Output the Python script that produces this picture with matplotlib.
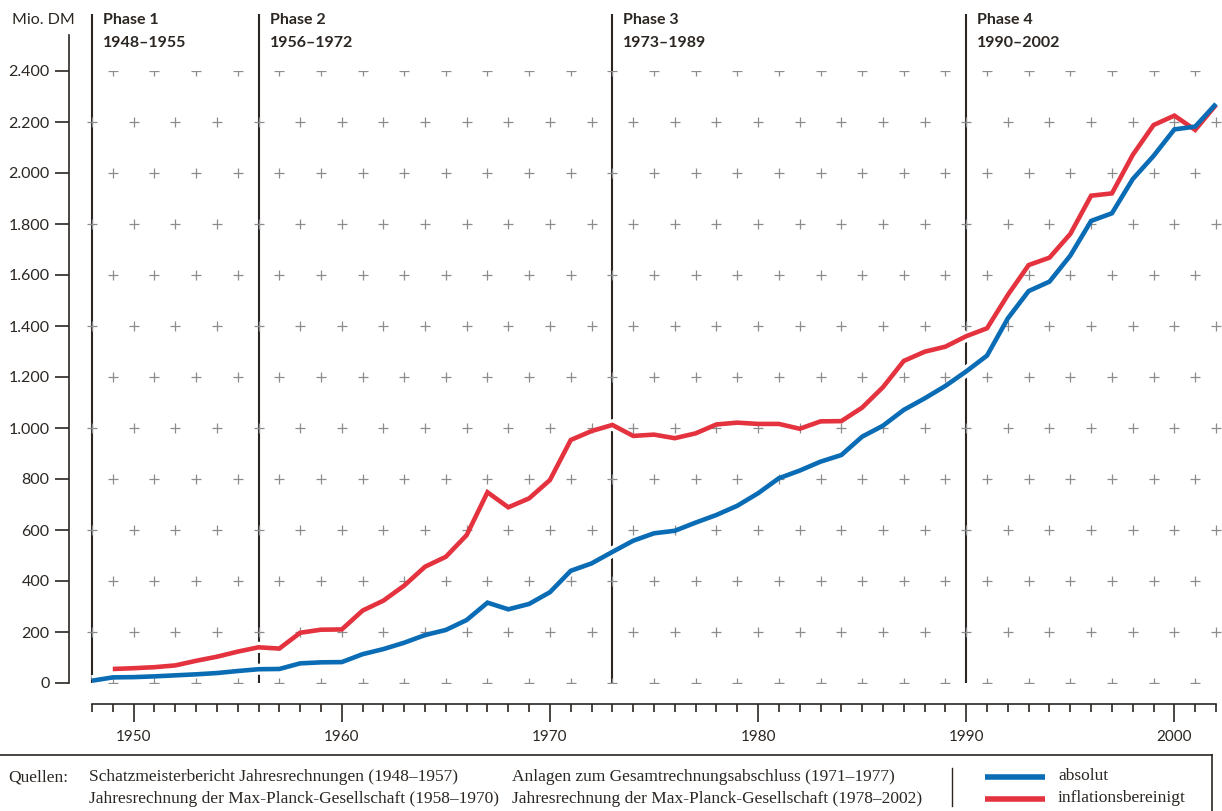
import matplotlib
matplotlib.use("Agg")
import matplotlib.pyplot as plt
from matplotlib.lines import Line2D
from matplotlib.transforms import Bbox, TransformedBbox
import numpy as np

# ---------------- data ----------------
years_abs = list(range(1948, 2003))
absolut = [9, 22, 23, 26, 30, 34, 39, 47, 54, 55, 77, 81, 82,
           113, 133, 158, 188, 208, 247, 315, 289, 310, 356, 440, 469,
           514, 558, 587, 597, 629, 659, 695, 744, 803, 833, 868, 894, 966, 1009, 1071, 1116, 1165,
           1222, 1284, 1430, 1537, 1574, 1676, 1812, 1842, 1976, 2067, 2171, 2182, 2271]
years_infl = list(range(1949, 2003))
inflationsbereinigt = [55, 58, 62, 69, 87, 103, 123, 140, 135, 197, 209, 210,
                       284, 323, 382, 456, 495, 580, 748, 689, 724, 796, 953, 988,
                       1012, 969, 974, 960, 979, 1014, 1021, 1016, 1016, 997, 1026, 1027, 1080, 1160, 1263, 1299, 1319,
                       1360, 1391, 1522, 1639, 1668, 1761, 1911, 1920, 2071, 2188, 2225, 2169, 2267]

phase_starts = [1948, 1956, 1973, 1990]
phase_names = ["Phase 1", "Phase 2", "Phase 3", "Phase 4"]
phase_ranges = ["1948–1955", "1956–1972", "1973–1989", "1990–2002"]

y_ticks = list(range(0, 2401, 200))
x_major = [1950, 1960, 1970, 1980, 1990, 2000]

sources_col1 = ["Schatzmeisterbericht Jahresrechnungen (1948–1957)",
                "Jahresrechnung der Max-Planck-Gesellschaft (1958–1970)"]
sources_col2 = ["Anlagen zum Gesamtrechnungsabschluss (1971–1977)",
                "Jahresrechnung der Max-Planck-Gesellschaft (1978–2002)"]
legend_labels = ["absolut", "inflationsbereinigt"]

BLUE = "#0a6cb4"
RED = "#e4333f"
DARK = "#2b2622"
GRID = "#8c8c8c"

W, H = 1222, 811
plt.rcParams['font.family'] = ['Lato', 'DejaVu Sans']

fig = plt.figure(figsize=(W / 100, H / 100), dpi=100)

def fx(px):
    return px / W

def fy(py):
    return 1 - py / H

# main axes: data area 1948..2002 x 0..2400
ax = fig.add_axes([fx(92), fy(683), fx(1216) - fx(92), fy(71) - fy(683)])
ax.set_xlim(1948, 2002)
ax.set_ylim(0, 2400)
ax.patch.set_alpha(0)

for s in ["top", "right"]:
    ax.spines[s].set_visible(False)
ax.spines["left"].set_position(("outward", 23 * 0.72))
ax.spines["left"].set_bounds(0, 2541)
ax.spines["bottom"].set_position(("outward", 21 * 0.72))
ax.spines["bottom"].set_bounds(1948, 2002)
for s in ["left", "bottom"]:
    ax.spines[s].set_color(DARK)
    ax.spines[s].set_linewidth(1.2)

ax.set_yticks(y_ticks)
ax.set_yticklabels([f"{v:,}".replace(",", ".") for v in y_ticks])
ax.tick_params(axis="y", direction="out", length=10, width=1.2, color=DARK,
               labelsize=11.5, labelcolor=DARK, pad=4)
ax.set_xticks(x_major)
ax.set_xticklabels([str(v) for v in x_major])
ax.set_xticks(years_abs, minor=True)
ax.tick_params(axis="x", which="major", direction="out", length=13, width=1.2,
               color=DARK, labelsize=11, labelcolor=DARK, pad=6)
ax.tick_params(axis="x", which="minor", direction="out", length=6, width=1.2, color=DARK)

# plus grid
px_list, py_list = [], []
for v in y_ticks:
    idx = v // 200
    yrs = range(1949, 2002, 2) if idx % 2 == 0 else range(1948, 2003, 2)
    for yr in yrs:
        px_list.append(yr)
        py_list.append(v)

# phase vertical lines
for ps in phase_starts:
    ax.plot([ps, ps], [0, 2623], color=DARK, lw=1.5, zorder=1, clip_on=False,
            solid_capstyle="butt")

# white outlines
for xs, ys in [(years_infl, inflationsbereinigt), (years_abs, absolut)]:
    ax.plot(xs, ys, color="white", lw=8.0, zorder=2, clip_on=False,
            solid_joinstyle="miter", solid_capstyle="butt")

sc = ax.scatter(px_list, py_list, marker="+", s=55, color=GRID, linewidths=0.9, zorder=3)
sc.set_clip_box(TransformedBbox(Bbox([[1946, 0], [2004, 2400]]), ax.transData))

ax.plot(years_infl, inflationsbereinigt, color=RED, lw=3.3, zorder=4, clip_on=False,
        solid_joinstyle="miter", solid_capstyle="butt")
ax.plot(years_abs, absolut, color=BLUE, lw=3.3, zorder=5, clip_on=False,
        solid_joinstyle="miter", solid_capstyle="butt")

# phase labels
for ps, nm, rg in zip(phase_starts, phase_names, phase_ranges):
    xpix = 92 + (ps - 1948) * (1216 - 92) / 54 + 11
    fig.text(fx(xpix), fy(20), nm, fontsize=11.5, fontweight="bold", color=DARK,
             ha="left", va="center")
    fig.text(fx(xpix), fy(43), rg, fontsize=11.5, fontweight="bold", color=DARK,
             ha="left", va="center")

fig.text(fx(12), fy(20), "Mio. DM", fontsize=11.5, color=DARK, ha="left", va="center")

# footer box
fig.add_artist(Line2D([0, fx(1212)], [fy(755), fy(755)], color=DARK, lw=1.2))
fig.add_artist(Line2D([fx(1212), fx(1212)], [fy(755), 0], color=DARK, lw=1.2))
fig.add_artist(Line2D([fx(952), fx(952)], [fy(768), fy(806)], color=DARK, lw=1.0))

serif = ['Liberation Serif', 'DejaVu Serif']
fs = 12.5
fig.text(fx(8), fy(777), "Quellen:", family=serif, fontsize=fs, color=DARK, ha="left", va="center")
for i, (a, b) in enumerate(zip(sources_col1, sources_col2)):
    yy = 777 + 22 * i
    fig.text(fx(89), fy(yy), a, family=serif, fontsize=fs, color=DARK, ha="left", va="center")
    fig.text(fx(512), fy(yy), b, family=serif, fontsize=fs, color=DARK, ha="left", va="center")

for i, (lab, col) in enumerate(zip(legend_labels, [BLUE, RED])):
    yy = 777 + 22 * i
    fig.add_artist(Line2D([fx(985), fx(1045)], [fy(yy), fy(yy)], color=col, lw=4.0,
                          solid_capstyle="butt"))
    fig.text(fx(1058), fy(yy - 1), lab, family=serif, fontsize=fs, color=DARK,
             ha="left", va="center")

fig.savefig("out.png", dpi=100)
